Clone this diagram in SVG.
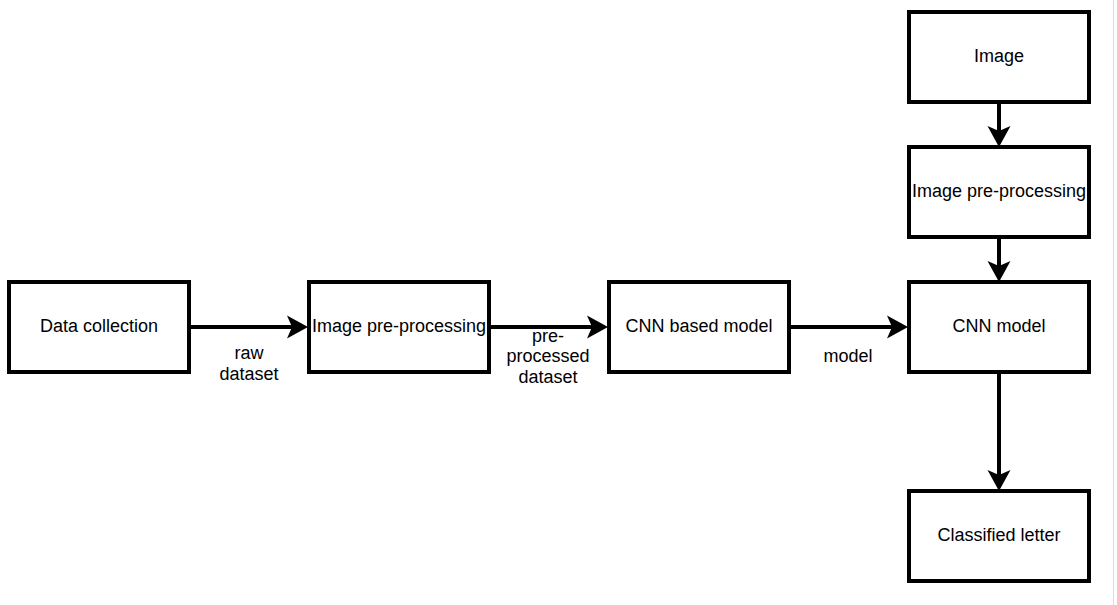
<svg xmlns="http://www.w3.org/2000/svg" width="1117" height="605" viewBox="0 0 1117 605">
<defs>
<style>
.box{fill:#fff;stroke:#000;stroke-width:4}
.t{font-family:"Liberation Sans",Arial,sans-serif;font-size:18px;fill:#000;text-anchor:middle}
.c{fill:none;stroke:#000;stroke-width:4}
</style>
<marker id="ah" markerUnits="userSpaceOnUse" markerWidth="22" markerHeight="24" refX="5" refY="11.5" orient="auto" overflow="visible">
<path d="M0,0 L21,11.5 L0,23 L5,11.5 Z" fill="#000"/>
</marker>
</defs>
<rect width="1117" height="605" fill="#fff"/>
<line x1="1113.5" y1="0" x2="1113.5" y2="605" stroke="#ddd" stroke-width="1"/>
<g id="connectors">
<path class="c" d="M189,327 H292" marker-end="url(#ah)"/>
<path class="c" d="M489,327 H592" marker-end="url(#ah)"/>
<path class="c" d="M789,327 H892" marker-end="url(#ah)"/>
<path class="c" d="M999,102 V131" marker-end="url(#ah)"/>
<path class="c" d="M999,237 V266" marker-end="url(#ah)"/>
<path class="c" d="M999,372 V475" marker-end="url(#ah)"/>
<text class="t" x="249" y="359">raw</text>
<text class="t" x="249" y="380">dataset</text>
<text class="t" x="548" y="342">pre-</text>
<text class="t" x="548" y="362">processed</text>
<text class="t" x="548" y="383">dataset</text>
<text class="t" x="848" y="362">model</text>
</g>
<g id="data-collection"><rect class="box" x="9" y="282" width="180" height="90"/><text class="t" x="99" y="332">Data collection</text></g>
<g id="image-preprocessing-1"><rect class="box" x="309" y="282" width="180" height="90"/><text class="t" x="399" y="332">Image pre-processing</text></g>
<g id="cnn-based-model"><rect class="box" x="609" y="282" width="180" height="90"/><text class="t" x="699" y="332">CNN based model</text></g>
<g id="cnn-model"><rect class="box" x="909" y="282" width="180" height="90"/><text class="t" x="999" y="332">CNN model</text></g>
<g id="image"><rect class="box" x="909" y="12" width="180" height="90"/><text class="t" x="999" y="62">Image</text></g>
<g id="image-preprocessing-2"><rect class="box" x="909" y="147" width="180" height="90"/><text class="t" x="999" y="197">Image pre-processing</text></g>
<g id="classified-letter"><rect class="box" x="909" y="491" width="180" height="90"/><text class="t" x="999" y="541">Classified letter</text></g>
</svg>
